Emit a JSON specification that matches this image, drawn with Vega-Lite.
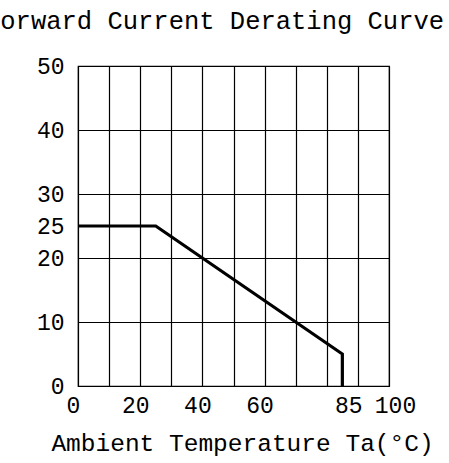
{
  "$schema": "https://vega.github.io/schema/vega-lite/v6.json",
  "autosize": "none",
  "width": 311,
  "height": 320,
  "padding": {"left": 78, "top": 66, "right": 60, "bottom": 77},
  "background": "white",
  "title": {
    "text": "Forward Current Derating Curve",
    "anchor": "start",
    "frame": "group",
    "dx": -93,
    "dy": 7,
    "offset": 8,
    "baseline": "alphabetic",
    "font": "Liberation Mono",
    "fontSize": 25.5,
    "fontWeight": "normal",
    "color": "#000"
  },
  "config": {
    "view": {"stroke": "#000", "strokeWidth": 1.2},
    "axis": {
      "domainColor": "#000",
      "gridColor": "#000",
      "gridOpacity": 1,
      "gridWidth": 1.2,
      "ticks": false,
      "labelFont": "Liberation Mono",
      "labelFontSize": 23,
      "labelColor": "#000",
      "titleFont": "Liberation Mono",
      "titleFontSize": 24.5,
      "titleFontWeight": "normal",
      "titleColor": "#000",
      "labelOverlap": false,
      "labelFlush": false
    }
  },
  "data": {
    "values": [
      {"temp": 0, "current": 25},
      {"temp": 25, "current": 25},
      {"temp": 85, "current": 5},
      {"temp": 85, "current": 0}
    ]
  },
  "mark": {"type": "line", "color": "#000", "strokeWidth": 3.2, "strokeJoin": "miter", "clip": false},
  "encoding": {
    "x": {
      "field": "temp",
      "type": "quantitative",
      "scale": {"domain": [0, 100], "nice": false, "zero": false},
      "axis": {
        "values": [0, 10, 20, 30, 40, 50, 60, 70, 80, 85, 90, 100],
        "labelExpr": "indexof([0,20,40,60,85,100], datum.value) >= 0 ? datum.label : ''",
        "gridOpacity": {"condition": {"test": "datum.value === 85", "value": 0}, "value": 1},
        "labelOffset": {"condition": {"test": "datum.value >= 85", "value": 6}, "value": -5},
        "labelPadding": 8,
        "title": "Ambient Temperature Ta(°C)",
        "titleX": 164,
        "titleY": 64,
        "titleAlign": "center",
        "titleBaseline": "alphabetic"
      }
    },
    "y": {
      "field": "current",
      "type": "quantitative",
      "scale": {"domain": [0, 50], "nice": false},
      "axis": {
        "values": [0, 10, 20, 25, 30, 40, 50],
        "gridOpacity": {"condition": {"test": "datum.value === 25", "value": 0}, "value": 1},
        "labelPadding": 14,
        "title": null
      }
    }
  }
}
